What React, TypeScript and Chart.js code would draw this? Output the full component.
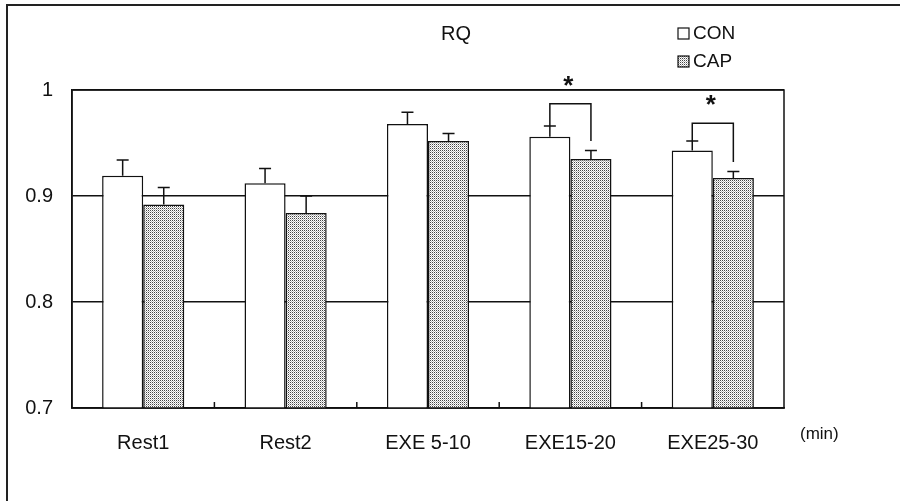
import React, { useEffect, useRef } from 'react';
import { Chart, registerables } from 'chart.js';

Chart.register(...registerables);

// ---- data ----
const categories = ['Rest1', 'Rest2', 'EXE 5-10', 'EXE15-20', 'EXE25-30'];
const seriesNames = ['CON', 'CAP'];
const conValues = [0.919, 0.912, 0.968, 0.956, 0.943];
const capValues = [0.892, 0.884, 0.952, 0.935, 0.917];
const conErrors = [0.015, 0.014, 0.011, 0.010, 0.009];
const capErrors = [0.016, 0.016, 0.007, 0.008, 0.006];
const yTickValues = [0.7, 0.8, 0.9, 1];
const chartTitle = 'RQ';
const xUnit = '(min)';
// significance markers
const sigCategories = [3, 4];
const sigBracketTop = [0.987, 0.9686];
const sigRightLegEnd = [0.952, 0.932];
const sigStarY = [1.0085, 0.9906];
const sigLabel = '*';

const FONT = "'Liberation Sans Narrow', 'Liberation Sans', Arial, sans-serif";

function makePattern(): CanvasPattern | string {
  const c = document.createElement('canvas');
  c.width = 2;
  c.height = 2;
  const x = c.getContext('2d');
  if (!x) return '#c0c0c0';
  x.fillStyle = '#ffffff';
  x.fillRect(0, 0, 2, 2);
  x.fillStyle = '#444444';
  x.fillRect(0, 0, 1, 1);
  x.fillStyle = '#b8b8b8';
  x.fillRect(1, 1, 1, 1);
  const p = x.createPattern(c, 'repeat');
  return p || '#c0c0c0';
}

export default function App() {
  const ref = useRef<HTMLCanvasElement | null>(null);

  useEffect(() => {
    const canvas = ref.current;
    if (!canvas) return;
    const pattern = makePattern();

    const overlay = {
      id: 'overlay',
      afterDatasetsDraw(chart: any) {
        const ctx = chart.ctx as CanvasRenderingContext2D;
        const y = chart.scales.y;
        const x = chart.scales.x;
        const area = chart.chartArea;
        const m0 = chart.getDatasetMeta(0);
        const m1 = chart.getDatasetMeta(1);
        ctx.save();
        ctx.strokeStyle = '#111';
        ctx.lineWidth = 1.5;

        // error bars
        const errs = [conErrors, capErrors];
        const vals = [conValues, capValues];
        [m0, m1].forEach((meta: any, di: number) => {
          meta.data.forEach((bar: any, i: number) => {
            const top = y.getPixelForValue(vals[di][i]);
            const et = y.getPixelForValue(vals[di][i] + errs[di][i]);
            ctx.beginPath();
            ctx.moveTo(bar.x, top);
            ctx.lineTo(bar.x, et);
            ctx.moveTo(bar.x - 6, et);
            ctx.lineTo(bar.x + 6, et);
            ctx.stroke();
          });
        });

        // category boundary ticks (inside, at bottom)
        for (let i = 1; i < categories.length; i++) {
          const px = (x.getPixelForValue(i - 1) + x.getPixelForValue(i)) / 2;
          ctx.beginPath();
          ctx.moveTo(px, area.bottom);
          ctx.lineTo(px, area.bottom - 6);
          ctx.stroke();
        }

        // brackets + stars
        sigCategories.forEach((ci, k) => {
          const xl = m0.data[ci].x;
          const xr = m1.data[ci].x;
          const yl = y.getPixelForValue(conValues[ci] + conErrors[ci]);
          const yt = y.getPixelForValue(sigBracketTop[k]);
          const yr = y.getPixelForValue(sigRightLegEnd[k]);
          ctx.beginPath();
          ctx.moveTo(xl, yl);
          ctx.lineTo(xl, yt);
          ctx.lineTo(xr, yt);
          ctx.lineTo(xr, yr);
          ctx.stroke();
          ctx.fillStyle = '#111';
          ctx.font = `bold 26px 'Liberation Sans', Arial, sans-serif`;
          ctx.textAlign = 'center';
          ctx.textBaseline = 'alphabetic';
          const mt = ctx.measureText(sigLabel);
          const cy = y.getPixelForValue(sigStarY[k]);
          const base = cy + (mt.actualBoundingBoxAscent - mt.actualBoundingBoxDescent) / 2;
          ctx.fillText(sigLabel, (xl + xr) / 2 - 2, base);
        });

        // frame of plot area
        ctx.lineWidth = 1.5;
        ctx.strokeRect(area.left, area.top, area.right - area.left, area.bottom - area.top);

        // outer frame (top and left)
        ctx.lineWidth = 2;
        ctx.strokeStyle = '#222';
        ctx.beginPath();
        ctx.moveTo(7, chart.height);
        ctx.lineTo(7, 5);
        ctx.lineTo(chart.width, 5);
        ctx.stroke();

        // title
        ctx.fillStyle = '#111';
        ctx.font = `20px ${FONT}`;
        ctx.textAlign = 'center';
        ctx.textBaseline = 'middle';
        ctx.fillText(chartTitle, 456, 34);

        // legend
        const fills = [chart.data.datasets[0].backgroundColor, chart.data.datasets[1].backgroundColor];
        seriesNames.forEach((name, i) => {
          const ly = 34 + i * 28;
          ctx.fillStyle = fills[i] as any;
          ctx.fillRect(678, ly - 6, 11, 11);
          ctx.lineWidth = 1.2;
          ctx.strokeStyle = '#111';
          ctx.strokeRect(678, ly - 6, 11, 11);
          ctx.fillStyle = '#111';
          ctx.font = `19px ${FONT}`;
          ctx.textAlign = 'left';
          ctx.textBaseline = 'middle';
          ctx.fillText(name, 693, ly);
        });

        // unit
        ctx.font = `17px ${FONT}`;
        ctx.textAlign = 'left';
        ctx.fillText(xUnit, 800, 434);
        ctx.restore();
      },
    };

    const chart = new Chart(canvas, {
      type: 'bar',
      data: {
        labels: categories,
        datasets: [
          {
            label: seriesNames[0],
            data: conValues,
            backgroundColor: '#ffffff',
            borderColor: '#111',
            borderWidth: 1.5,
            borderSkipped: false,
          },
          {
            label: seriesNames[1],
            data: capValues,
            backgroundColor: pattern as any,
            borderColor: '#111',
            borderWidth: 1.5,
            borderSkipped: false,
          },
        ],
      },
      options: {
        animation: false,
        responsive: false,
        maintainAspectRatio: false,
        devicePixelRatio: 1,
        layout: { padding: { left: 0, top: 90, right: 116, bottom: 0 } },
        datasets: { bar: { categoryPercentage: 0.577, barPercentage: 1 } },
        plugins: {
          legend: { display: false },
          title: { display: false },
          tooltip: { enabled: false },
        },
        scales: {
          x: {
            grid: { display: false, drawTicks: false },
            border: { display: true, color: '#111', width: 1.5 },
            ticks: {
              color: '#111',
              font: { family: FONT, size: 20 },
              padding: 23,
              maxRotation: 0,
              autoSkip: false,
            },
            afterFit: (s: any) => {
              s.height = 93;
            },
          },
          y: {
            min: 0.7,
            max: 1,
            afterBuildTicks: (s: any) => {
              s.ticks = yTickValues.map((v) => ({ value: v }));
            },
            grid: { color: '#111', lineWidth: 1.5, drawTicks: false },
            border: { display: true, color: '#111', width: 1.5 },
            ticks: {
              color: '#111',
              font: { family: FONT, size: 20 },
              padding: 19,
              callback: (v: any) => String(Math.round(Number(v) * 10) / 10),
            },
            afterFit: (s: any) => {
              s.width = 72;
            },
          },
        },
      },
      plugins: [overlay],
    });

    return () => chart.destroy();
  }, []);

  return (
    <div style={{ position: 'fixed', left: 0, top: 0, width: 900, height: 501, background: '#fff' }}>
      <canvas ref={ref} width={900} height={501} style={{ display: 'block', width: 900, height: 501 }} />
    </div>
  );
}
